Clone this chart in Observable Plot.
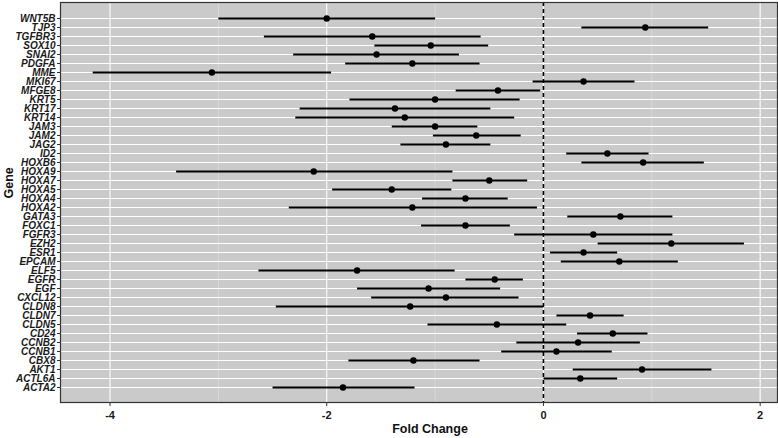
<!DOCTYPE html>
<html>
<head>
<meta charset="utf-8">
<script src="https://cdn.jsdelivr.net/npm/d3@7"></script>
<script src="https://cdn.jsdelivr.net/npm/@observablehq/plot@0.6"></script>
<style>
  body { margin: 0; background: #fff; }
  svg { font-family: "Liberation Sans", Arial, sans-serif; }
  g[aria-label="y-axis tick label"] text { font-weight: bold; font-style: italic; font-size: 10px; fill: #1a1a1a; }
  g[aria-label="x-axis tick label"] text { font-weight: bold; font-size: 11px; fill: #1a1a1a; }
</style>
</head>
<body>
<div id="chart"></div>
<script>
const genes = ["WNT5B","TJP3","TGFBR3","SOX10","SNAI2","PDGFA","MME","MKI67","MFGE8","KRT5","KRT17","KRT14","JAM3","JAM2","JAG2","ID2","HOXB6","HOXA9","HOXA7","HOXA5","HOXA4","HOXA2","GATA3","FOXC1","FGFR3","EZH2","ESR1","EPCAM","ELF5","EGFR","EGF","CXCL12","CLDN8","CLDN7","CLDN5","CD24","CCNB2","CCNB1","CBX8","AKT1","ACTL6A","ACTA2"];
const estimate = [-2.00,0.94,-1.58,-1.04,-1.54,-1.21,-3.06,0.37,-0.42,-1.00,-1.37,-1.28,-1.00,-0.62,-0.90,0.59,0.92,-2.12,-0.50,-1.40,-0.72,-1.21,0.71,-0.72,0.46,1.18,0.37,0.70,-1.72,-0.45,-1.06,-0.90,-1.23,0.43,-0.43,0.64,0.32,0.12,-1.20,0.91,0.34,-1.85];
const lower = [-3.00,0.35,-2.58,-1.56,-2.31,-1.83,-4.16,-0.10,-0.81,-1.79,-2.25,-2.29,-1.40,-1.02,-1.32,0.21,0.35,-3.39,-0.84,-1.95,-1.12,-2.35,0.22,-1.13,-0.27,0.50,0.06,0.16,-2.63,-0.72,-1.72,-1.59,-2.47,0.12,-1.07,0.31,-0.25,-0.39,-1.80,0.27,0.00,-2.50];
const upper = [-1.00,1.52,-0.58,-0.51,-0.78,-0.59,-1.96,0.84,-0.03,-0.22,-0.49,-0.27,-0.61,-0.21,-0.49,0.97,1.48,-0.84,-0.15,-0.85,-0.33,-0.06,1.19,-0.31,1.19,1.85,0.68,1.24,-0.82,-0.19,-0.40,-0.23,0.00,0.74,0.21,0.96,0.89,0.63,-0.59,1.55,0.68,-1.19];
const xTicks = [-4,-2,0,2];
const xMinor = [-3,-1,1];

const rows = genes.map((g, i) => ({gene: g, est: estimate[i], lo: lower[i], hi: upper[i]}));
const fmt = d => d < 0 ? "-" + Math.abs(d) : String(d);

const chart = Plot.plot({
  width: 778,
  height: 438,
  marginLeft: 60,
  marginRight: 1,
  marginTop: 2,
  marginBottom: 36,
  style: {background: "#fff", color: "#333", fontFamily: "Liberation Sans, Arial, sans-serif"},
  x: {domain: [-4.457, 2.16], label: null},
  y: {type: "point", domain: genes, padding: 0.75, label: null},
  marks: [
    Plot.frame({fill: "#CACACA", stroke: null}),
    Plot.ruleX(xMinor, {stroke: "#E2E2E2", strokeWidth: 0.6}),
    Plot.ruleX(xTicks, {stroke: "#FFFFFF", strokeWidth: 1.1}),
    Plot.ruleY(genes, {stroke: "#FFFFFF", strokeWidth: 1.1}),
    Plot.ruleX([0], {stroke: "#000", strokeWidth: 1.6, strokeDasharray: "4,3"}),
    Plot.link(rows, {x1: "lo", x2: "hi", y1: "gene", y2: "gene", stroke: "#000", strokeWidth: 1.8}),
    Plot.dot(rows, {x: "est", y: "gene", r: 3.2, fill: "#000", stroke: null}),
    Plot.frame({stroke: "#333", strokeWidth: 1.2}),
    Plot.axisX({ticks: xTicks, tickSize: 4, tickPadding: 5, tickFormat: fmt, label: null}),
    Plot.axisY({tickSize: 3, tickPadding: 2, label: null}),
    Plot.text(["Fold Change"], {frameAnchor: "bottom", dy: 30, dx: 11, fontWeight: "bold", fontSize: 12.5, fill: "#111"}),
    Plot.text(["Gene"], {frameAnchor: "left", dx: -52, dy: -4, rotate: -90, fontWeight: "bold", fontSize: 12.5, fill: "#111"})
  ]
});
document.getElementById("chart").appendChild(chart);
</script>
</body>
</html>
